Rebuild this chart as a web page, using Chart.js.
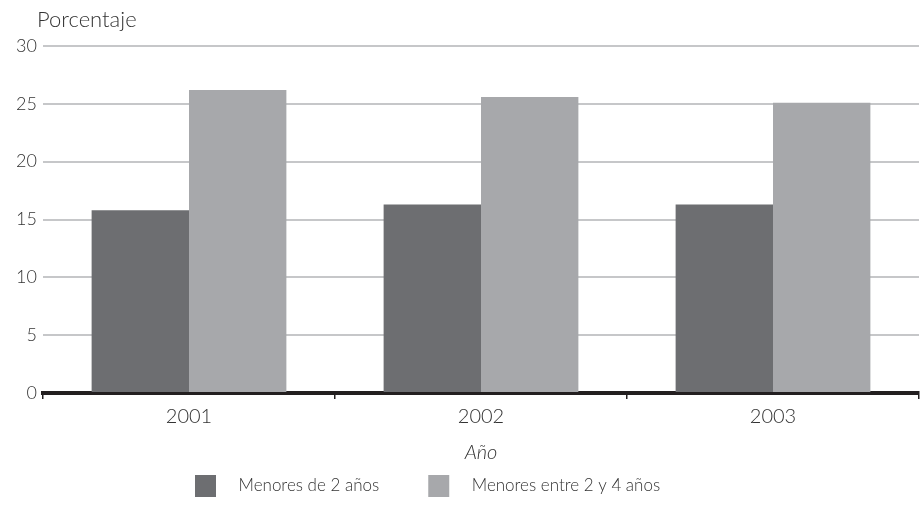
<!DOCTYPE html>
<html>
<head>
<meta charset="utf-8">
<script src="https://cdn.jsdelivr.net/npm/chart.js@4"></script>
<style>
  html, body { margin: 0; padding: 0; background: #fff; }
  #wrap { width: 922px; height: 506px; position: relative; }
</style>
</head>
<body>
<div id="wrap"><canvas id="chart"></canvas></div>
<script>
const years = ["2001", "2002", "2003"];
const seriesNames = ["Menores de 2 años", "Menores entre 2 y 4 años"];
const under2 = [15.8, 16.3, 16.3];
const from2to4 = [26.2, 25.6, 25.1];
const yTicks = [0, 5, 10, 15, 20, 25, 30];

const darkGray = "#6d6e71";
const lightGray = "#a7a8ab";
const textColor = "#333333";
const fontFamily = "Lato, 'Liberation Sans', sans-serif";

// legend swatch: transparent canvas with the coloured square on its right side
const BOX_W = 74;
function swatch(color) {
  const c = document.createElement("canvas");
  c.width = BOX_W;
  c.height = 22;
  const g = c.getContext("2d");
  g.fillStyle = color;
  g.fillRect(BOX_W - 35, 0, 21, 22);
  return c;
}
const swatches = [swatch(darkGray), swatch(lightGray)];

// y axis caption above the plot
const captionPlugin = {
  id: "caption",
  afterDraw(chart) {
    const ctx = chart.ctx;
    ctx.save();
    ctx.font = "300 22px " + fontFamily;
    ctx.fillStyle = textColor;
    ctx.textAlign = "left";
    ctx.textBaseline = "alphabetic";
    ctx.fillText("Porcentaje", 37, 27);
    ctx.restore();
  },
};

// put the legend where the original has it
const legendShift = {
  id: "legendShift",
  afterLayout(chart) {
    const lg = chart.legend;
    const p = lg.options.labels.padding;
    const want = 156;
    const d = (2 * want - p + lg.lineWidths[0] - lg.left - lg.right) / 2;
    lg.left += d;
    lg.right += d;
  },
};

new Chart(document.getElementById("chart"), {
  type: "bar",
  data: {
    labels: years,
    datasets: [
      { label: seriesNames[0], data: under2, backgroundColor: darkGray },
      { label: seriesNames[1], data: from2to4, backgroundColor: lightGray },
    ],
  },
  options: {
    responsive: true,
    maintainAspectRatio: false,
    animation: false,
    layout: { padding: { top: 46, right: 3, left: 0, bottom: 2 } },
    datasets: { bar: { barPercentage: 1, categoryPercentage: 0.667 } },
    plugins: {
      tooltip: { enabled: false },
      legend: {
        position: "bottom",
        labels: {
          font: { family: fontFamily, size: 17, weight: "300" },
          color: textColor,
          padding: 10,
          usePointStyle: true,
          pointStyleWidth: BOX_W,
          generateLabels(chart) {
            return Chart.defaults.plugins.legend.labels
              .generateLabels(chart)
              .map((item, i) => ({ ...item, pointStyle: swatches[i] }));
          },
        },
      },
    },
    scales: {
      x: {
        grid: {
          offset: true,
          drawOnChartArea: false,
          drawTicks: true,
          tickLength: 6,
          tickColor: "#231f20",
          lineWidth: 1.5,
        },
        border: { display: true, color: "#231f20", width: 4 },
        ticks: {
          font: { family: fontFamily, size: 20, weight: "300" },
          color: textColor,
          padding: 6,
        },
        title: {
          display: true,
          text: "Año",
          font: { family: fontFamily, size: 20, style: "italic", weight: "300" },
          color: textColor,
          padding: { top: 6, bottom: 2 },
        },
      },
      y: {
        min: 0,
        max: 30,
        afterFit(scale) { scale.width = 43; },
        afterBuildTicks(scale) { scale.ticks = yTicks.map((v) => ({ value: v })); },
        grid: { color: "#c6c7c9", lineWidth: 2, drawTicks: false },
        border: { display: false },
        ticks: {
          font: { family: fontFamily, size: 18, weight: "300" },
          color: textColor,
          padding: 6,
        },
      },
    },
  },
  plugins: [captionPlugin, legendShift],
});
</script>
</body>
</html>
